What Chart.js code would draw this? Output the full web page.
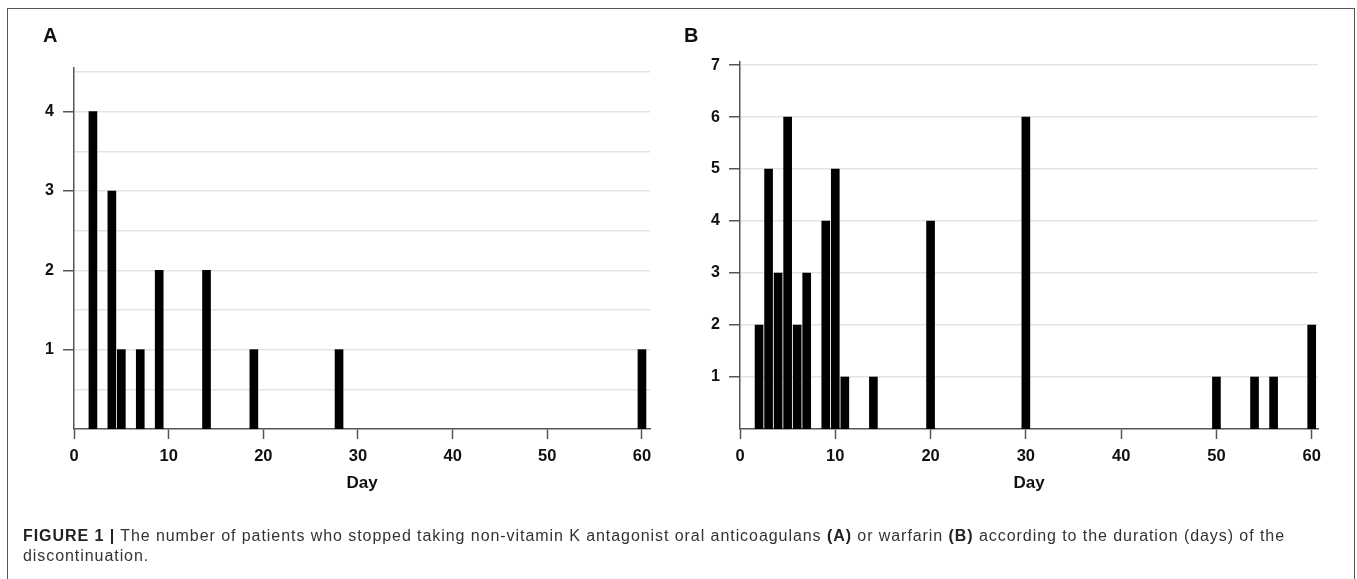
<!DOCTYPE html>
<html>
<head>
<meta charset="utf-8">
<script src="https://cdn.jsdelivr.net/npm/chart.js@4.4.1/dist/chart.umd.min.js"></script>
<style>
html,body{margin:0;padding:0;background:#fff;}
body{width:1357px;height:579px;position:relative;overflow:hidden;font-family:'Liberation Sans',Arial,Helvetica,sans-serif;}
#frame{position:absolute;left:7px;top:7.5px;width:1348px;height:640px;border:1.5px solid #555;box-sizing:border-box;}
.wrap{position:absolute;top:0;height:579px;}
#wa{left:0;width:680px;}
#wb{left:680px;width:677px;}
.letter{position:absolute;font-weight:bold;font-size:20px;line-height:20px;color:#111;}
#caption{position:absolute;left:23px;top:525.5px;font-size:16px;line-height:20.5px;color:#333;white-space:nowrap;}
#caption b{color:#222;}
</style>
</head>
<body>
<div id="frame"></div>
<div class="wrap" id="wa"><canvas id="chartA" width="680" height="579"></canvas></div>
<div class="wrap" id="wb"><canvas id="chartB" width="677" height="579"></canvas></div>
<div class="letter" style="left:43px;top:25px;">A</div>
<div class="letter" style="left:684px;top:25px;">B</div>
<div id="caption"><span id="l1"><b>FIGURE 1 |</b> The number of patients who stopped taking non-vitamin K antagonist oral anticoagulans <b>(A)</b> or warfarin <b>(B)</b> according to the duration (days) of the</span><br>discontinuation.</div>
<script>
// ---- data ----
const daysA   = [2, 4, 5, 7, 9, 14, 19, 28, 60];
const countsA = [4, 3, 1, 1, 2, 2, 1, 1, 1];
const daysB   = [2, 3, 4, 5, 6, 7, 9, 10, 11, 14, 20, 30, 50, 54, 56, 60];
const countsB = [2, 5, 3, 6, 2, 3, 4, 5, 1, 1, 4, 6, 1, 1, 1, 2];
const xTickValues = [0, 10, 20, 30, 40, 50, 60];
const yTicksA = [0.5, 1, 1.5, 2, 2.5, 3, 3.5, 4, 4.5];
const yTicksB = [1, 2, 3, 4, 5, 6, 7];
const xTitle = 'Day';

Chart.defaults.font.family = "'Liberation Sans', Arial, Helvetica, sans-serif";

function panel(id, days, counts, yTicks, L) {
  const pts = days.map((d, i) => ({x: d, y: counts[i]}));
  return new Chart(document.getElementById(id), {
    type: 'bar',
    data: {datasets: [{data: pts, backgroundColor: '#000', borderWidth: 0, barThickness: 8}]},
    options: {
      responsive: false, animation: false, devicePixelRatio: 1,
      layout: {padding: {left: 0, top: L.top, right: L.right, bottom: L.bottom}},
      plugins: {legend: {display: false}, tooltip: {enabled: false}},
      scales: {
        x: {
          type: 'linear', min: 0, max: L.xMax, offset: false,
          afterBuildTicks: s => { s.ticks = xTickValues.map(v => ({value: v})); },
          afterFit: s => { s.height = 65; },
          grid: {offset: false, drawOnChartArea: false, drawTicks: true, tickLength: 10, tickColor: '#555', tickWidth: 1.5},
          border: {display: true, color: '#555', width: 1.5},
          ticks: {autoSkip: false, maxRotation: 0, padding: 8, color: '#111',
                  font: {size: 16.5, weight: 'bold'}, callback: v => String(v)},
          title: {display: true, text: xTitle, color: '#111', font: {size: 17, weight: 'bold'}, padding: 0}
        },
        y: {
          type: 'linear', min: 0, max: L.yMax,
          afterBuildTicks: s => { s.ticks = yTicks.map(v => ({value: v})); },
          afterFit: s => { s.width = L.yw; },
          grid: {color: '#e3e3e3', lineWidth: 1.5, drawTicks: true, tickLength: 11,
                 tickColor: c => Number.isInteger(c.tick.value) ? '#555' : 'rgba(0,0,0,0)', tickWidth: 1.5},
          border: {display: true, color: '#555', width: 1.5},
          ticks: {autoSkip: false, padding: 9, color: '#111', font: {size: 16, weight: 'bold'},
                  callback: v => Number.isInteger(v) ? String(v) : ''}
        }
      }
    }
  });
}

panel('chartA', daysA, countsA, yTicksA, {top: 68, right: 30, bottom: 85, xMax: 60.85, yMax: 4.55, yw: 74});
panel('chartB', daysB, countsB, yTicksB, {top: 62, right: 39, bottom: 85, xMax: 60.66, yMax: 7.06, yw: 60});

// fit caption line width to the reference
const l1 = document.getElementById('l1');
const cap = document.getElementById('caption');
const w = l1.getBoundingClientRect().width;
const n = l1.textContent.length;
cap.style.letterSpacing = ((1262 - w) / n) + 'px';
</script>
</body>
</html>
